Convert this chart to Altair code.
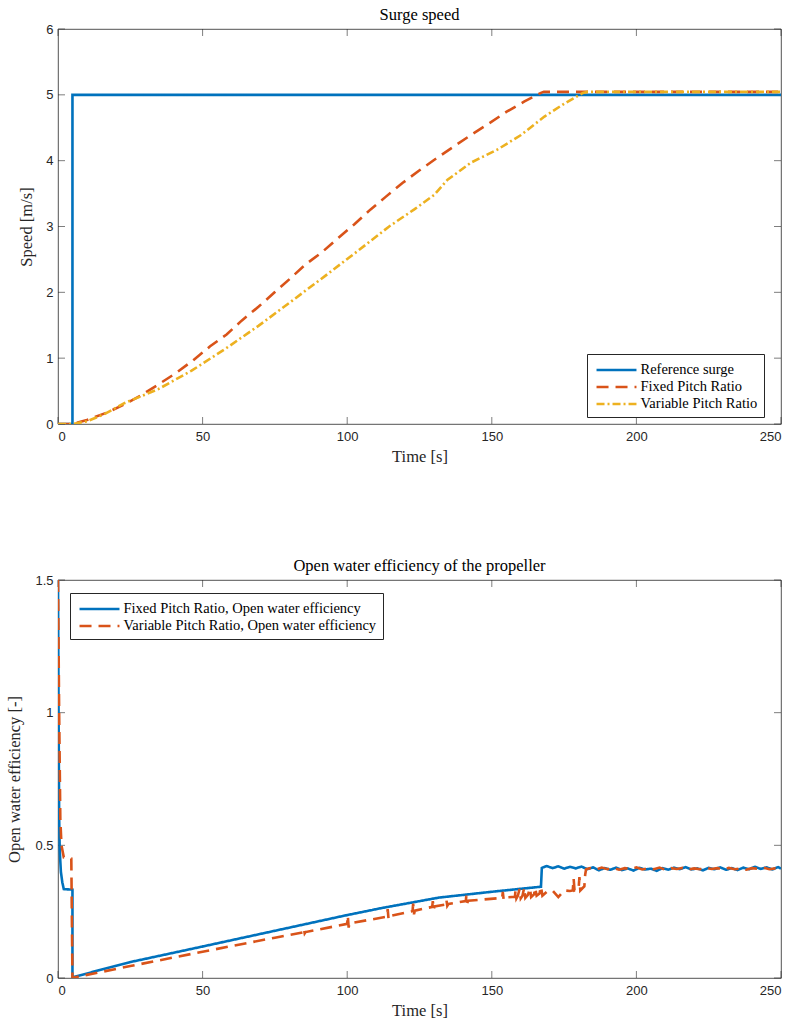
import altair as alt
import pandas as pd

# ---------------- Top chart data: Surge speed ----------------
ref_t = [0, 5, 5, 250]
ref_v = [0, 0, 5, 5]

fix_t = [0, 5, 10, 17.3, 23, 28.9, 34.7, 41, 46.8, 52.6, 58.3, 63.5, 69.3, 74.9, 80.3,
         85.5, 91.3, 97, 102.4, 108.1, 113.3, 119.1, 124.9, 131, 137, 142.8, 149.2, 155,
         161.3, 167, 168, 250]
fix_v = [0, 0, 0.06, 0.18, 0.3, 0.44, 0.6, 0.78, 0.97, 1.18, 1.36, 1.57, 1.78, 2.0, 2.21,
         2.42, 2.61, 2.83, 3.03, 3.26, 3.45, 3.66, 3.85, 4.04, 4.22, 4.39, 4.57, 4.74,
         4.9, 5.03, 5.045, 5.045]

var_t = [0, 5, 10, 16, 23.1, 34.7, 46.2, 57.8, 69.3, 80.9, 92.4, 103.4, 114.5, 123.2,
         130.1, 134.7, 142.8, 152, 160.1, 168.2, 175.2, 181.5, 183, 250]
var_v = [0, 0, 0.04, 0.15, 0.32, 0.53, 0.81, 1.14, 1.49, 1.87, 2.25, 2.62, 3.0, 3.26,
         3.48, 3.71, 3.97, 4.17, 4.39, 4.67, 4.87, 5.03, 5.045, 5.045]

top_series = ["Reference surge", "Fixed Pitch Ratio", "Variable Pitch Ratio"]

# ---------------- Bottom chart data: Open water efficiency ----------------
eff_fix_t = [0, 0.2, 0.4, 0.6, 1.0, 1.5, 2.0, 5.0, 5.0, 5.8, 25, 49.7, 75, 99.9, 111.6,
             131.7, 150, 167,
             167.3, 169, 171, 173, 175, 177, 179, 181, 183, 185, 187, 189, 191, 193, 195,
             197, 199, 201, 203, 205, 207, 209, 211, 213, 215, 217, 219, 221, 223, 225,
             227, 229, 231, 233, 235, 237, 239, 241, 243, 245, 247, 249, 250]
eff_fix_v = [1.5, 1.0, 0.6, 0.48, 0.4, 0.36, 0.335, 0.333, 0.0, 0.005, 0.06, 0.118, 0.178,
             0.237, 0.263, 0.303, 0.325, 0.344,
             0.415, 0.422, 0.414, 0.421, 0.412, 0.419, 0.413, 0.42, 0.41, 0.417, 0.406,
             0.414, 0.408, 0.416, 0.407, 0.413, 0.405, 0.415, 0.409, 0.412, 0.404, 0.414,
             0.408, 0.416, 0.41, 0.418, 0.409, 0.413, 0.406, 0.415, 0.41, 0.417, 0.408,
             0.414, 0.407, 0.416, 0.41, 0.419, 0.411, 0.417, 0.409, 0.418, 0.412]

eff_var_t = [0, 0.4, 0.8, 1.2, 2.0, 4.6, 5.0, 6, 25, 50, 75, 84.8, 85.0, 85.3, 85.6, 100,
             100.2, 100.5, 100.8, 113.8, 114.0, 114.3, 114.6, 122.6, 122.8, 123.1, 123.4,
             129.4, 129.6, 129.9, 130.2, 134.0, 134.3, 134.6, 135, 141, 141.2, 141.5,
             141.8, 153.6, 153.8, 154.1, 154.4, 158, 158.2, 158.5, 159, 159.6, 160, 160.6,
             161.2, 161.6, 162.5, 163.2, 163.6, 164.6, 165, 165.5, 166.5, 167, 167.5, 169,
             171, 173, 175, 177, 178, 178.3, 178.6, 180, 180.3, 180.6, 181.5, 182, 182.3,
             182.6, 184, 186, 188, 190, 192, 194, 196, 198, 200, 202, 204, 206, 208, 210,
             212, 214, 216, 218, 220, 222, 224, 226, 228, 230, 232, 234, 236, 238, 240,
             242, 244, 246, 248, 250]
eff_var_v = [1.5, 1.0, 0.6, 0.5, 0.455, 0.45, 0.0, 0.003, 0.045, 0.099, 0.152, 0.172,
             0.186, 0.168, 0.173, 0.204, 0.235, 0.19, 0.206, 0.231, 0.26, 0.222, 0.233,
             0.252, 0.28, 0.24, 0.254, 0.268, 0.29, 0.258, 0.27, 0.277, 0.295, 0.272,
             0.279, 0.29, 0.31, 0.282, 0.291, 0.302, 0.325, 0.295, 0.303, 0.306, 0.33, 0.3,
             0.31, 0.335, 0.3, 0.31, 0.34, 0.302, 0.313, 0.338, 0.305, 0.315, 0.34, 0.31,
             0.318, 0.345, 0.31, 0.325, 0.33, 0.305, 0.33, 0.328, 0.33, 0.375, 0.33, 0.335,
             0.38, 0.33, 0.34, 0.345, 0.39, 0.41, 0.414, 0.409, 0.416, 0.41, 0.415, 0.408,
             0.414, 0.411, 0.417, 0.409, 0.413, 0.41, 0.416, 0.408, 0.414, 0.411, 0.415,
             0.409, 0.413, 0.41, 0.416, 0.411, 0.414, 0.409, 0.415, 0.41, 0.413, 0.408,
             0.414, 0.411, 0.416, 0.41, 0.413, 0.411]

bottom_series = ["Fixed Pitch Ratio, Open water efficiency",
                 "Variable Pitch Ratio, Open water efficiency"]

x_ticks = [0, 50, 100, 150, 200, 250]
top_y_ticks = [0, 1, 2, 3, 4, 5, 6]
bottom_y_ticks = [0, 0.5, 1, 1.5]

BLUE, RED, YELLOW = "#0072BD", "#D95319", "#EDB120"
AX = "#262626"
SERIF = "Liberation Serif"
SANS = "Liberation Sans"

W = 723
H_TOP = 395
H_BOT = 398


def long_df(pairs, names):
    rows = []
    for (ts, vs), name in zip(pairs, names):
        assert len(ts) == len(vs), name
        for i, (t, v) in enumerate(zip(ts, vs)):
            rows.append({"t": t, "v": v, "series": name, "idx": i})
    return pd.DataFrame(rows)


top_df = long_df([(ref_t, ref_v), (fix_t, fix_v), (var_t, var_v)], top_series)
bot_df = long_df([(eff_fix_t, eff_fix_v), (eff_var_t, eff_var_v)], bottom_series)


def make_panel(df, names, colors, dashes, ydomain, yticks, ytitle, title, H,
               legend_x, legend_y, yfmt, ytitle_pad):
    xscale = alt.Scale(domain=[0, 250], nice=False, zero=False)
    yscale = alt.Scale(domain=ydomain, nice=False, zero=False)
    leg = alt.Legend(title=None, orient="none", legendX=legend_x, legendY=legend_y)
    lines = alt.Chart(df).mark_line(strokeWidth=2.6, clip=True).encode(
        x=alt.X("t:Q", scale=xscale,
                axis=alt.Axis(values=x_ticks, title="Time [s]", ticks=False, domain=False,
                              grid=False, labelPadding=6, titlePadding=5)),
        y=alt.Y("v:Q", scale=yscale,
                axis=alt.Axis(values=yticks, title=ytitle, ticks=False, domain=False,
                              grid=False, labelPadding=5, titlePadding=ytitle_pad,
                              format=yfmt)),
        color=alt.Color("series:N", scale=alt.Scale(domain=names, range=colors), legend=leg),
        strokeDash=alt.StrokeDash("series:N", scale=alt.Scale(domain=names, range=dashes),
                                  legend=leg),
        order="idx:Q",
    )
    xt = pd.DataFrame({"tick": x_ticks})
    yt = pd.DataFrame({"tick": yticks})
    tick_style = dict(color=AX, strokeWidth=0.6)
    bx = alt.Chart(xt).mark_rule(**tick_style).encode(
        x=alt.X("tick:Q", scale=xscale), y=alt.value(H), y2=alt.value(H - 7))
    tx = alt.Chart(xt).mark_rule(**tick_style).encode(
        x=alt.X("tick:Q", scale=xscale), y=alt.value(0), y2=alt.value(7))
    ly = alt.Chart(yt).mark_rule(**tick_style).encode(
        y=alt.Y("tick:Q", scale=yscale), x=alt.value(0), x2=alt.value(7))
    ry = alt.Chart(yt).mark_rule(**tick_style).encode(
        y=alt.Y("tick:Q", scale=yscale), x=alt.value(W), x2=alt.value(W - 7))
    return alt.layer(bx, tx, ly, ry, lines).properties(
        width=W, height=H,
        title=alt.TitleParams(title, font=SERIF, fontSize=16.5, fontWeight="normal",
                              color="black", offset=0),
    )


top = make_panel(top_df, top_series, [BLUE, RED, YELLOW], [[1, 0], [12, 7], [8, 3, 2, 3]],
                 [0, 6], top_y_ticks, "Speed [m/s]", "Surge speed", H_TOP, 529, 325, "d", 11)
bottom = make_panel(bot_df, bottom_series, [BLUE, RED], [[1, 0], [12, 7]],
                    [0, 1.5], bottom_y_ticks, "Open water efficiency [-]",
                    "Open water efficiency of the propeller", H_BOT, 12, 13, "~g", 12)

chart = alt.vconcat(top, bottom, spacing=92).resolve_scale(
    color="independent", strokeDash="independent"
).properties(
    padding={"left": 6, "top": 6, "right": 8, "bottom": 5},
    background="white",
).configure_view(
    stroke=AX, strokeWidth=0.8
).configure_axis(
    labelFont=SANS, labelFontSize=13, labelColor=AX, titleFont=SERIF, titleFontSize=16.5,
    titleFontWeight="normal", titleColor=AX,
).configure_legend(
    strokeColor=AX, fillColor="white", padding=6, labelFont=SERIF, labelFontSize=14.5,
    labelColor="black", symbolType="M-2.35,0H2.35", symbolSize=289,
    symbolStrokeWidth=2.6, symbolOffset=13.5, labelOffset=14, rowPadding=0,
    cornerRadius=0, labelLimit=0,
)

chart.save("out.html", embed_options={"renderer": "svg", "actions": False})
